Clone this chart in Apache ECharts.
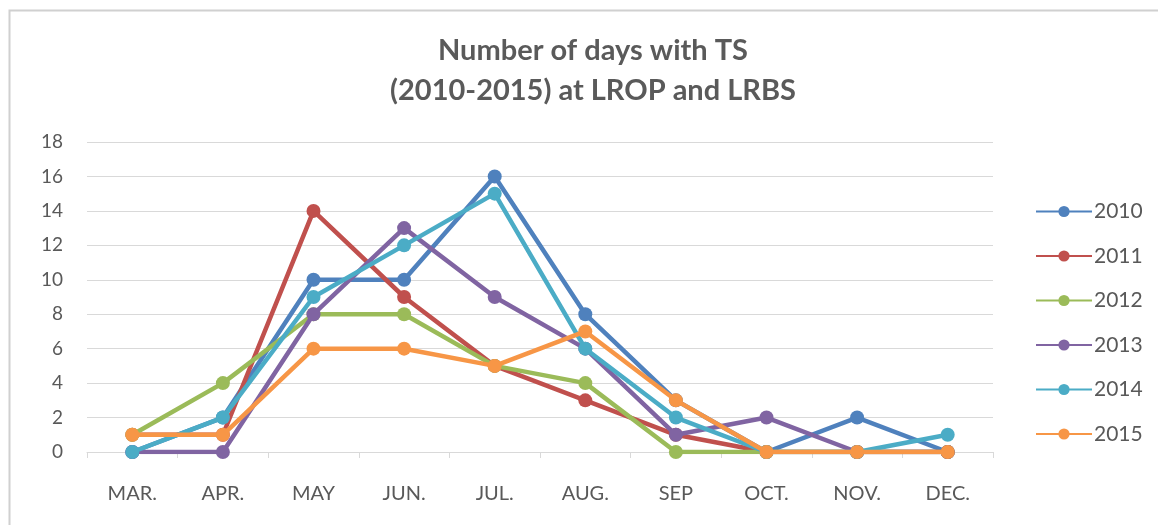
<!DOCTYPE html>
<html>
<head>
<meta charset="utf-8">
<script src="https://cdn.jsdelivr.net/npm/echarts@6/dist/echarts.min.js"></script>
<style>
html,body{margin:0;padding:0;background:#fff;}
#chart{width:1158px;height:525px;}
</style>
</head>
<body>
<div id="chart"></div>
<script>
const categories = ['MAR.', 'APR.', 'MAY', 'JUN.', 'JUL.', 'AUG.', 'SEP', 'OCT.', 'NOV.', 'DEC.'];
const seriesNames = ['2010', '2011', '2012', '2013', '2014', '2015'];
const y2010 = [0, 2, 10, 10, 16, 8, 3, 0, 2, 0];
const y2011 = [1, 1, 14, 9, 5, 3, 1, 0, 0, 0];
const y2012 = [1, 4, 8, 8, 5, 4, 0, 0, 0, 0];
const y2013 = [0, 0, 8, 13, 9, 6, 1, 2, 0, 0];
const y2014 = [0, 2, 9, 12, 15, 6, 2, 0, 0, 1];
const y2015 = [1, 1, 6, 6, 5, 7, 3, 0, 0, 0];
const yTicks = [0, 2, 4, 6, 8, 10, 12, 14, 16, 18];

const allData = [y2010, y2011, y2012, y2013, y2014, y2015];
const colors = ['#4F81BD', '#C0504D', '#9BBB59', '#8064A2', '#4BACC6', '#F79646'];
const font = 'Lato, "Open Sans", sans-serif';

const chart = echarts.init(document.getElementById('chart'), null, {renderer: 'canvas'});
chart.setOption({
  animation: false,
  backgroundColor: '#fff',
  color: colors,
  title: {
    text: 'Number of days with TS\n(2010-2015) at LROP and LRBS',
    left: 588,
    textAlign: 'center',
    top: 26,
    textStyle: {fontFamily: font, fontSize: 29, fontWeight: 'bold', color: '#5a5a5a', lineHeight: 40}
  },
  graphic: [{
    type: 'rect',
    shape: {x: 9.5, y: 10.5, width: 1200, height: 600},
    style: {fill: 'none', stroke: '#D0D0D0', lineWidth: 2},
    silent: true
  }],
  legend: {
    orient: 'vertical',
    left: 1030,
    top: 196,
    itemGap: 23.5,
    itemWidth: 56,
    itemHeight: 14,
    data: seriesNames,
    textStyle: {fontFamily: font, fontSize: 21, color: '#595959', padding: [0, 0, 0, -3]}
  },
  grid: {left: 87, right: 1158 - 993, top: 142, bottom: 525 - 452, containLabel: false},
  xAxis: {
    type: 'category',
    data: categories,
    boundaryGap: true,
    axisLine: {lineStyle: {color: '#D9D9D9', width: 1}},
    axisTick: {show: true, length: 6, lineStyle: {color: '#D9D9D9'}},
    axisLabel: {fontFamily: font, fontSize: 20, color: '#595959', margin: 32}
  },
  yAxis: {
    type: 'value',
    min: 0,
    max: 18,
    interval: 2,
    axisLine: {show: false},
    axisTick: {show: false},
    splitLine: {lineStyle: {color: '#D9D9D9', width: 1}},
    axisLabel: {fontFamily: font, fontSize: 19, color: '#595959', margin: 24,
      formatter: v => yTicks.includes(v) ? String(v) : ''}
  },
  series: seriesNames.map((n, i) => ({
    name: n,
    type: 'line',
    data: allData[i],
    symbol: 'circle',
    symbolSize: 14,
    lineStyle: {width: 4.5, color: colors[i]},
    itemStyle: {color: colors[i]},
    z: 2 + i
  }))
});
</script>
</body>
</html>
